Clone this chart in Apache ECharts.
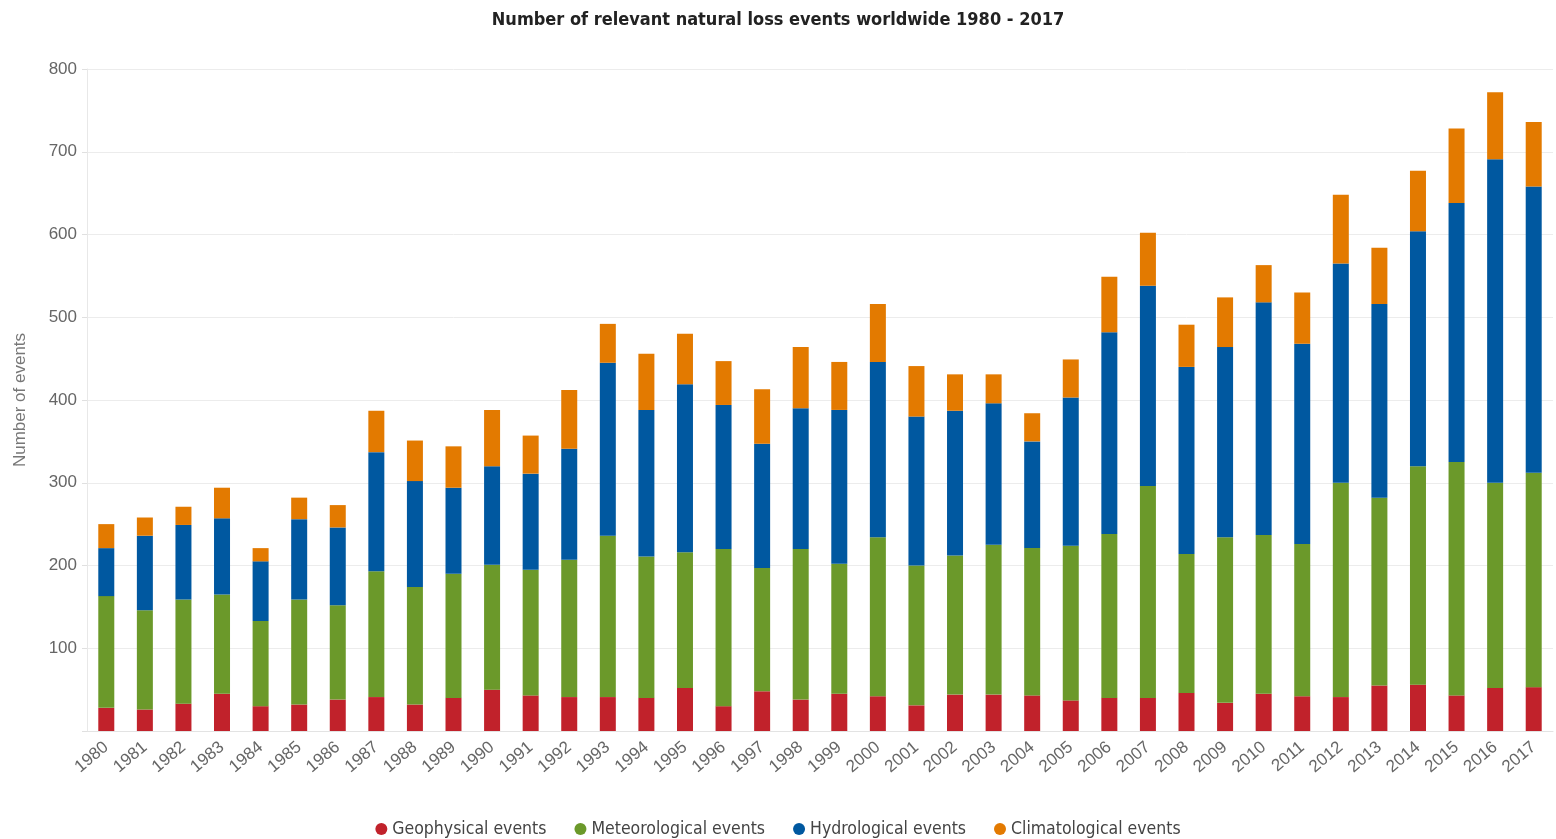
<!DOCTYPE html>
<html>
<head>
<meta charset="utf-8">
<title>Natural loss events 1980 - 2017</title>
<script src="https://cdn.jsdelivr.net/npm/echarts@6/dist/echarts.min.js"></script>
<style>
  html, body { margin: 0; padding: 0; background: #fff; }
  #chart { width: 1556px; height: 839px; }
</style>
</head>
<body>
<div id="chart"></div>
<script>
// data
let years = ['1980', '1981', '1982', '1983', '1984', '1985', '1986', '1987', '1988', '1989',
    '1990', '1991', '1992', '1993', '1994', '1995', '1996', '1997', '1998', '1999',
    '2000', '2001', '2002', '2003', '2004', '2005', '2006', '2007', '2008', '2009',
    '2010', '2011', '2012', '2013', '2014', '2015', '2016', '2017'];

let geophysical = [28, 26, 33, 45, 30, 32, 38, 41, 32, 40,
    50, 43, 41, 41, 40, 52, 30, 48, 38, 45,
    42, 31, 44, 44, 43, 37, 40, 40, 46, 34,
    45, 42, 41, 55, 56, 43, 52, 53];

let meteorological = [135, 120, 126, 120, 103, 127, 114, 152, 142, 150,
    151, 152, 166, 195, 171, 164, 190, 149, 182, 157,
    192, 169, 168, 181, 178, 187, 198, 256, 168, 200,
    192, 184, 259, 227, 264, 282, 248, 259];

let hydrological = [58, 90, 90, 92, 72, 97, 94, 144, 128, 104,
    119, 116, 134, 209, 177, 203, 174, 150, 170, 186,
    212, 180, 175, 171, 129, 179, 244, 242, 226, 230,
    281, 242, 265, 234, 284, 313, 391, 346];

let climatological = [29, 22, 22, 37, 16, 26, 27, 50, 49, 50,
    68, 46, 71, 47, 68, 61, 53, 66, 74, 58,
    70, 61, 44, 35, 34, 46, 67, 64, 51, 60,
    45, 62, 83, 68, 73, 90, 81, 78];

let yTicks = [100, 200, 300, 400, 500, 600, 700, 800];

let seriesNames = ['Geophysical events', 'Meteorological events', 'Hydrological events', 'Climatological events'];
let seriesColors = ['#c1222b', '#6b992a', '#0058a0', '#e37a00'];
let seriesData = [geophysical, meteorological, hydrological, climatological];

let condensed = '"DejaVu Sans Condensed", "DejaVu Sans", sans-serif';

let chart = echarts.init(document.getElementById('chart'));

let option = {
    animation: false,
    title: {
        text: 'Number of relevant natural loss events worldwide 1980 - 2017',
        left: 'center',
        top: 6,
        textStyle: {
            fontFamily: condensed,
            fontSize: 18,
            fontWeight: 'bold',
            color: '#222'
        }
    },
    legend: {
        top: 815,
        left: 'center',
        icon: 'circle',
        itemWidth: 12,
        itemHeight: 12,
        itemGap: 28,
        textStyle: {
            fontFamily: condensed,
            fontSize: 17.5,
            color: '#444'
        },
        data: seriesNames
    },
    grid: {
        left: 87,
        right: 3,
        top: 69,
        bottom: 108
    },
    xAxis: {
        type: 'category',
        data: years,
        axisLine: { lineStyle: { color: '#e3e3e3' } },
        axisTick: { show: false },
        axisLabel: {
            rotate: 40,
            interval: 0,
            margin: 14,
            fontFamily: 'Liberation Sans',
            fontSize: 17,
            color: '#666'
        }
    },
    yAxis: {
        type: 'value',
        min: 0,
        max: 800,
        interval: 100,
        name: 'Number of events',
        nameLocation: 'middle',
        nameGap: 58,
        nameTextStyle: {
            fontFamily: 'Liberation Sans',
            fontSize: 17,
            color: '#777'
        },
        axisLine: { show: true, lineStyle: { color: '#e8e8e8' } },
        axisTick: { show: true, length: 5, lineStyle: { color: '#e0e0e0' } },
        splitLine: { lineStyle: { color: '#ececec' } },
        axisLabel: {
            margin: 10,
            fontFamily: 'Liberation Sans',
            fontSize: 17,
            color: '#666',
            formatter: function (v) {
                return yTicks.indexOf(v) >= 0 ? String(v) : '';
            }
        }
    },
    series: seriesNames.map(function (name, i) {
        return {
            name: name,
            type: 'bar',
            stack: 'events',
            barWidth: 16,
            itemStyle: { color: seriesColors[i] },
            data: seriesData[i]
        };
    })
};

chart.setOption(option);
</script>
</body>
</html>
